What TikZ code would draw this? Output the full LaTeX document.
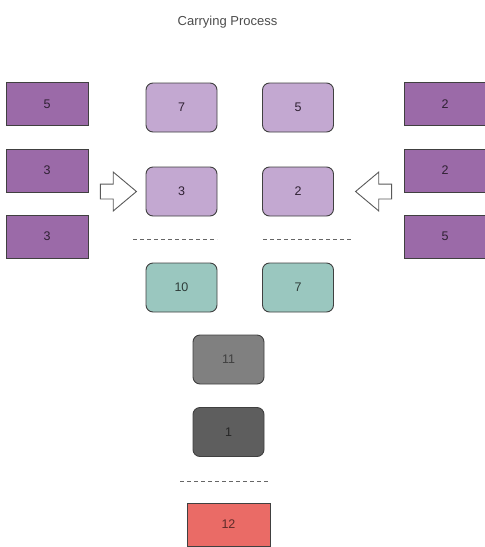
\documentclass[tikz,border=0pt]{standalone}
\usepackage{fontspec}
\setmainfont{Liberation Sans}
\usetikzlibrary{shapes.arrows}
\definecolor{purpdark}{HTML}{9B6AA8}
\definecolor{purplight}{HTML}{C3A8D1}
\definecolor{tealbox}{HTML}{9AC7BF}
\definecolor{redbox}{HTML}{EA6B66}
\tikzset{
	digit/.style={font=\fontsize{12.5}{14}\selectfont, inner sep=0pt, draw=black!75, line width=0.9pt},
	sharpbox/.style={digit, fill=purpdark, text=purpdark!30!black, minimum width=82pt, minimum height=43pt},
	roundbox/.style={digit, rounded corners=7pt, minimum width=71pt, minimum height=49pt},
	carry/.style={draw=black!60, dash pattern=on 4pt off 3pt, line width=0.8pt},
	blockarrow/.style={single arrow, draw=black!65, line width=0.9pt, fill=white, inner xsep=0pt, inner ysep=7pt, minimum height=36pt, single arrow head extend=12pt, single arrow tip angle=80}
}
\begin{document}
\begin{tikzpicture}[x=1pt,y=-1pt]
	\useasboundingbox (0,0) rectangle (485,547);
	\node at (227.5,22) (title) {\fontsize{13}{15}\selectfont\color{black!70}Carrying Process};
	% digits waiting on both sides
	\foreach \i/\y/\l/\r in {1/104/5/2, 2/170.5/3/2, 3/236.5/3/5}{
		\node[sharpbox] at (47,\y) (l\i) {\l};
		\node[sharpbox] at (445,\y) (r\i) {\r};
	}
	% the two addends
	\node[roundbox, fill=purplight, text=purpdark!30!black] at (181.5,107.5) (a1) {7};
	\node[roundbox, fill=purplight, text=purpdark!30!black] at (298,107.5) (b1) {5};
	\node[roundbox, fill=purplight, text=purpdark!30!black] at (181.5,191.5) (a2) {3};
	\node[roundbox, fill=purplight, text=purpdark!30!black] at (298,191.5) (b2) {2};
	\node[blockarrow] at (114,191.5) (la) {};
	\node[blockarrow, shape border rotate=180] at (378,191.5) (ra) {};
	\draw[carry] (133,239) -- (217,239);
	\draw[carry] (263,239) -- (352,239);
	% sums and carry
	\node[roundbox, fill=tealbox, text=tealbox!30!black] at (181.5,287.5) (s1) {10};
	\node[roundbox, fill=tealbox, text=tealbox!30!black] at (298,287.5) (s2) {7};
	\node[roundbox, fill=black!50, text=black!75] at (228.5,359.5) (c1) {11};
	\node[roundbox, fill=black!63, text=black!85] at (228.5,432) (c2) {1};
	\draw[carry] (180,481) -- (270,481);
	\node[digit, fill=redbox, text=redbox!40!black, minimum width=83pt, minimum height=43pt] at (228.5,524.5) (res) {12};
\end{tikzpicture}
\end{document}
